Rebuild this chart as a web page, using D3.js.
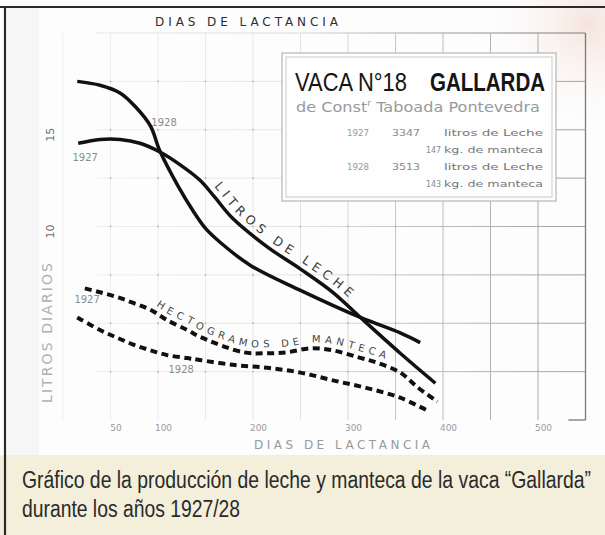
<!DOCTYPE html>
<html><head><meta charset="utf-8">
<script src="https://cdn.jsdelivr.net/npm/d3@7"></script>
<style>
html,body{margin:0;padding:0;background:#fff;}
svg{display:block}
</style></head><body>
<svg id="c" width="605" height="535"></svg>
<script>
// ---- data (days of lactation, litres / hectograms per day) ----
const xTicks = [50, 100, 200, 300, 400, 500];
const yTicks = [15, 10];
const milk1928Days = [15, 39, 60, 76, 92, 102, 121, 137, 150, 165, 197, 250, 313, 355, 376];
const milk1928     = [17.5, 17.3, 16.9, 16.2, 15.2, 13.9, 12.1, 10.8, 9.9, 9.2, 8.0, 6.7, 5.3, 4.5, 4.0];
const milk1927Days = [16, 39, 60, 81, 102, 123, 144, 160, 178, 215, 250, 284, 313, 355, 392];
const milk1927     = [14.3, 14.5, 14.5, 14.3, 13.85, 13.2, 12.4, 11.5, 10.45, 8.95, 7.8, 6.6, 5.3, 3.45, 1.9];
const butter1927Days = [23, 39, 57, 74, 92, 110, 131, 144, 190, 215, 236, 260, 284, 310, 331, 355, 373, 394];
const butter1927     = [6.8, 6.6, 6.35, 6.05, 5.7, 5.15, 4.65, 4.3, 3.5, 3.45, 3.5, 3.7, 3.6, 3.25, 2.95, 2.45, 1.7, 0.95];
const butter1928Days = [15, 39, 57, 74, 92, 110, 131, 144, 179, 215, 250, 284, 320, 355, 383];
const butter1928     = [5.3, 4.65, 4.25, 3.9, 3.6, 3.35, 3.2, 3.1, 2.85, 2.7, 2.45, 2.05, 1.65, 1.15, 0.5];
const boxTitle = ["VACA N°18", "GALLARDA"];
const boxSub = "de Const";
const boxRows = [
  ["1927", "3347", "litros de Leche"],
  ["", "147", "kg. de manteca"],
  ["1928", "3513", "litros de Leche"],
  ["", "143", "kg. de manteca"]
];
const captionLines = ["Gráfico de la producción de leche y manteca de la vaca “Gallarda”", "durante los años 1927/28"];

const zip = (a, b) => a.map((d, i) => [d, b[i]]);

const svg = d3.select('#c');
const defs = svg.append('defs');
const x = d3.scaleLinear().domain([0, 550]).range([63, 585.5]);
const y = d3.scaleLinear().domain([0, 20]).range([420, 33]);

// gradients
const gg = defs.append('linearGradient').attr('id', 'gridGrad').attr('gradientUnits', 'userSpaceOnUse')
  .attr('x1', 60).attr('x2', 590).attr('y1', 0).attr('y2', 0);
[[0, '#f0f0f0'], [0.45, '#e5e5e5'], [0.66, '#c2c2c2'], [1, '#a0a0a0']]
  .forEach(([o, c]) => gg.append('stop').attr('offset', o).attr('stop-color', c));
const rg = defs.append('radialGradient').attr('id', 'tint').attr('gradientUnits', 'userSpaceOnUse')
  .attr('cx', 590).attr('cy', 25).attr('r', 110);
rg.append('stop').attr('offset', 0).attr('stop-color', '#f3ddd3').attr('stop-opacity', 0.8);
rg.append('stop').attr('offset', 1).attr('stop-color', '#fdfdfd').attr('stop-opacity', 0);

// background
svg.append('rect').attr('width', 605).attr('height', 535).attr('fill', '#fdfdfd');
svg.append('rect').attr('x', 7).attr('y', 8).attr('width', 32).attr('height', 447).attr('fill', '#f6f6f6');
svg.append('rect').attr('width', 605).attr('height', 130).attr('fill', 'url(#tint)');
svg.append('rect').attr('x', 0).attr('y', 455).attr('width', 605).attr('height', 80).attr('fill', '#f3efda');

// photo border lines
svg.append('line').attr('x1', 0).attr('x2', 605).attr('y1', 7).attr('y2', 7).attr('stroke', '#2a2a2a').attr('stroke-width', 2);
svg.append('line').attr('x1', 5).attr('x2', 5).attr('y1', 7).attr('y2', 535).attr('stroke', '#2a2a2a').attr('stroke-width', 2.2);

// grid
const gridDays = d3.range(0, 551, 50);
const gridVals = d3.range(2.5, 20.01, 2.5);
const grid = svg.append('g');
grid.selectAll('line.v').data(gridDays.slice(0, -1)).join('line').attr('class', 'v')
  .attr('x1', d => x(d)).attr('x2', d => x(d)).attr('y1', y(20)).attr('y2', y(0))
  .attr('stroke', 'url(#gridGrad)').attr('stroke-width', 1);
grid.selectAll('line.h').data(gridVals).join('line').attr('class', 'h')
  .attr('x1', x(35)).attr('x2', x(550)).attr('y1', d => y(d)).attr('y2', d => y(d))
  .attr('stroke', 'url(#gridGrad)').attr('stroke-width', d => d === 20 ? 1.4 : 1);
const dots = [];
gridDays.filter(d => d > 0 && d < 400).forEach(d => gridVals.filter(v => v < 20).forEach(v => dots.push([d, v])));
grid.selectAll('circle').data(dots).join('circle')
  .attr('cx', d => x(d[0])).attr('cy', d => y(d[1])).attr('r', 0.9).attr('fill', '#b5b5b5');
svg.append('line').attr('x1', x(550)).attr('x2', x(550)).attr('y1', y(20)).attr('y2', y(0)).attr('stroke', '#7a7a7a').attr('stroke-width', 1.3);
svg.append('line').attr('x1', x(532)).attr('x2', x(550)).attr('y1', y(0)).attr('y2', y(0)).attr('stroke', '#7a7a7a').attr('stroke-width', 1.3);

// titles
svg.append('text').attr('x', 155).attr('y', 26).text('DIAS DE LACTANCIA')
  .attr('font-family', 'DejaVu Sans').attr('font-size', 12).attr('fill', '#2e2e2e')
  .attr('textLength', 183).attr('lengthAdjust', 'spacing');
svg.append('text').attr('x', 254).attr('y', 449).text('DIAS DE LACTANCIA')
  .attr('font-family', 'DejaVu Sans').attr('font-size', 12).attr('fill', '#9a9a9a')
  .attr('textLength', 176).attr('lengthAdjust', 'spacing');
svg.append('text').attr('transform', 'translate(52,333) rotate(-90)').attr('text-anchor', 'middle')
  .text('LITROS DIARIOS').attr('font-family', 'DejaVu Sans').attr('font-size', 14).attr('fill', '#b0b0b0')
  .attr('textLength', 140).attr('lengthAdjust', 'spacing');

// x axis labels
const xa = svg.append('g').attr('transform', `translate(5,${y(0)})`)
  .call(d3.axisBottom(x).tickValues(xTicks).tickSize(0).tickPadding(5).tickFormat(d3.format('d')));
xa.select('.domain').remove();
xa.selectAll('text').attr('font-family', 'DejaVu Sans').attr('font-size', 9).attr('fill', '#9a9a9a');

// y axis labels (rotated)
svg.append('g').selectAll('text').data(yTicks).join('text')
  .attr('transform', d => `translate(50,${y(d) + 5}) rotate(-90)`)
  .attr('text-anchor', 'middle').attr('dy', '0.35em')
  .attr('font-family', 'DejaVu Sans').attr('font-size', 11).attr('fill', '#6f6f6f').text(d => d);

// legend box
const bx = 282, by = 53, bw = 274, bh = 148;
svg.append('rect').attr('x', bx).attr('y', by).attr('width', bw).attr('height', bh)
  .attr('fill', '#fefefe').attr('stroke', '#a8a8a8').attr('stroke-width', 1);
svg.append('rect').attr('x', bx + 4).attr('y', by + 4).attr('width', bw - 8).attr('height', bh - 8)
  .attr('fill', 'none').attr('stroke', '#c9c9c9').attr('stroke-width', 1);
svg.append('text').attr('x', 295).attr('y', 91).text(boxTitle[0])
  .attr('font-family', "'Liberation Sans Narrow','Liberation Sans',Arial,sans-serif").attr('font-size', 25).attr('fill', '#151515')
  .attr('textLength', 112).attr('lengthAdjust', 'spacingAndGlyphs');
svg.append('text').attr('x', 430).attr('y', 91).text(boxTitle[1])
  .attr('font-family', "'Liberation Sans',Arial,sans-serif").attr('font-weight', 'bold').attr('font-size', 25).attr('fill', '#151515')
  .attr('textLength', 115).attr('lengthAdjust', 'spacingAndGlyphs');
const sub = svg.append('text').attr('x', 296).attr('y', 112)
  .attr('font-family', "'DejaVu Sans'").attr('font-size', 14).attr('fill', '#9a9a9a');
sub.append('tspan').text(boxSub);
sub.append('tspan').attr('font-size', 8).attr('dy', -6).text('r');
sub.append('tspan').attr('dy', 6).text(' Taboada Pontevedra');
sub.attr('textLength', 244).attr('lengthAdjust', 'spacingAndGlyphs');

const rowY = [136, 153, 170, 187];
boxRows.forEach((r, i) => {
  const f = (t, xx, w, col) => svg.append('text').attr('x', xx).attr('y', rowY[i]).text(t)
    .attr('font-family', 'DejaVu Sans').attr('font-size', 9).attr('fill', col)
    .attr('textLength', w).attr('lengthAdjust', 'spacingAndGlyphs');
  if (r[0]) f(r[0], 347, 22, '#9a9a9a');
  if (r[0]) f(r[1], 392, 28, '#8a8a8a'); else f(r[1], 426, 15, '#8a8a8a');
  f(r[2], 444, 99, '#777');
});

// curves
const line = d3.line().x(d => x(d[0])).y(d => y(d[1])).curve(d3.curveCatmullRom.alpha(0.5));
const series = [
  {data: zip(milk1928Days, milk1928), dash: null},
  {data: zip(milk1927Days, milk1927), dash: null},
  {data: zip(butter1927Days, butter1927), dash: '7,4.5'},
  {data: zip(butter1928Days, butter1928), dash: '7,4.5'}
];
svg.append('g').selectAll('path').data(series).join('path')
  .attr('d', d => line(d.data)).attr('fill', 'none').attr('stroke', '#111')
  .attr('stroke-width', d => d.dash ? 4 : 3.5)
  .attr('stroke-dasharray', d => d.dash);

// labels along curves
function offsetPath(id, data, dx, dy) {
  const l = d3.line().x(d => x(d[0]) + dx).y(d => y(d[1]) + dy).curve(d3.curveCatmullRom.alpha(0.5));
  return defs.append('path').attr('id', id).attr('d', l(data)).node();
}
function startAt(node, px) {
  let lo = 0, hi = node.getTotalLength();
  for (let k = 0; k < 40; k++) { const m = (lo + hi) / 2; if (node.getPointAtLength(m).x < px) lo = m; else hi = m; }
  return lo;
}
const p1 = offsetPath('lecheP', zip(milk1927Days, milk1927), 5, -4);
svg.append('text').attr('font-family', 'DejaVu Sans').attr('font-size', 12.5).attr('fill', '#3a3a3a')
  .attr('letter-spacing', 4.6)
  .append('textPath').attr('href', '#lecheP').attr('startOffset', startAt(p1, 214)).text('LITROS DE LECHE');
const p2 = offsetPath('mantP', zip(butter1927Days, butter1927), 2, -6);
svg.append('text').attr('font-family', 'DejaVu Sans').attr('font-size', 10).attr('fill', '#454545')
  .attr('letter-spacing', 4.4)
  .append('textPath').attr('href', '#mantP').attr('startOffset', startAt(p2, 156)).text('HECTOGRAMOS DE MANTECA');

// year labels
const yl = (t, d, v) => svg.append('text').attr('x', x(d)).attr('y', y(v)).text(t)
  .attr('font-family', 'DejaVu Sans').attr('font-size', 10).attr('fill', '#8c8c8c');
yl('1928', 93, 15.2);
yl('1927', 10, 13.4);
yl('1927', 12, 6.05);
yl('1928', 111, 2.45);

// caption (narrow look: smaller font stretched vertically)
const sy = 1.25;
svg.selectAll('text.cap').data(captionLines).join('text').attr('class', 'cap')
  .attr('transform', `scale(1,${sy})`)
  .attr('x', 22).attr('y', (d, i) => (488 + i * 29) / sy).text(d => d)
  .attr('font-family', "'Liberation Sans Narrow','Liberation Sans',Arial,sans-serif").attr('font-size', 18.5).attr('fill', '#2a2a2a')
  .attr('textLength', (d, i) => i === 0 ? 569 : 218).attr('lengthAdjust', 'spacingAndGlyphs');
</script>
</body></html>
